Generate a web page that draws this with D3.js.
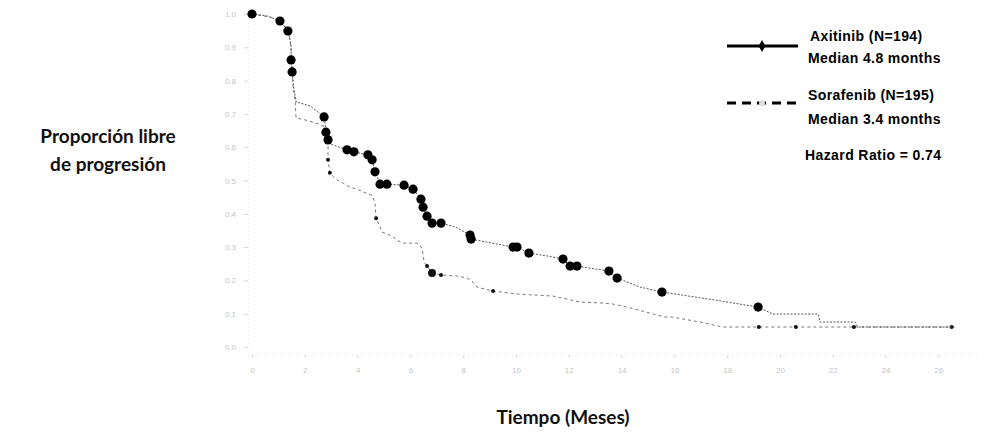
<!DOCTYPE html>
<html>
<head>
<meta charset="utf-8">
<script src="https://cdn.jsdelivr.net/npm/d3@7"></script>
<style>
  html, body { margin: 0; padding: 0; background: #fff; }
  svg { display: block; }
</style>
</head>
<body>
<svg id="chart" width="986" height="432"></svg>
<script>
// ---------- DATA ----------
const xTicks = [0, 2, 4, 6, 8, 10, 12, 14, 16, 18, 20, 22, 24, 26];
const yTicks = [0, 0.1, 0.2, 0.3, 0.4, 0.5, 0.6, 0.7, 0.8, 0.9, 1.0];

// Axitinib curve (months, proportion)
const axitinibTime = [0, 0.57, 1.06, 1.36, 1.48, 1.48, 1.52, 1.59, 1.67, 2.20, 2.73, 2.77, 2.84, 2.95, 3.60, 3.86, 4.39, 4.55, 4.66, 4.85, 5.11, 5.76, 6.10, 6.40, 6.48, 6.63, 6.82, 7.16, 7.73, 8.26, 8.30, 9.89, 10.04, 10.49, 11.21, 11.78, 12.05, 12.31, 13.52, 13.83, 14.70, 15.53, 17.54, 19.17, 19.73, 21.44, 21.52, 22.84, 22.95, 26.6];
const axitinibSurv = [1.0, 0.994, 0.979, 0.949, 0.907, 0.862, 0.826, 0.772, 0.736, 0.724, 0.691, 0.667, 0.631, 0.610, 0.592, 0.586, 0.577, 0.562, 0.526, 0.489, 0.489, 0.486, 0.474, 0.444, 0.420, 0.393, 0.372, 0.372, 0.360, 0.336, 0.324, 0.300, 0.300, 0.282, 0.273, 0.264, 0.243, 0.243, 0.228, 0.207, 0.180, 0.165, 0.141, 0.120, 0.099, 0.099, 0.075, 0.075, 0.060, 0.060];

// Axitinib markers
const axitinibMarkTime = [0, 1.06, 1.36, 1.48, 1.52, 2.73, 2.80, 2.88, 3.60, 3.86, 4.39, 4.55, 4.66, 4.85, 5.11, 5.76, 6.10, 6.40, 6.48, 6.63, 6.82, 7.16, 8.26, 8.30, 9.89, 10.04, 10.49, 11.78, 12.05, 12.31, 13.52, 13.83, 15.53, 19.17];
const axitinibMarkSurv = [1.0, 0.979, 0.949, 0.862, 0.826, 0.691, 0.645, 0.622, 0.592, 0.586, 0.577, 0.562, 0.526, 0.489, 0.489, 0.486, 0.474, 0.444, 0.420, 0.393, 0.372, 0.372, 0.336, 0.324, 0.300, 0.300, 0.282, 0.264, 0.243, 0.243, 0.228, 0.207, 0.165, 0.120];

// Sorafenib curve
const sorafenibTime = [0, 0.68, 1.14, 1.40, 1.48, 1.52, 1.55, 1.63, 1.67, 2.01, 2.50, 2.77, 2.88, 2.88, 2.95, 3.22, 3.45, 3.71, 3.98, 4.32, 4.55, 4.66, 4.70, 4.81, 4.92, 5.23, 5.57, 5.68, 6.25, 6.44, 6.52, 6.63, 6.82, 7.16, 7.80, 8.14, 8.37, 8.52, 9.13, 10.08, 11.40, 11.93, 12.42, 13.30, 13.67, 14.20, 15.64, 15.91, 16.97, 17.84, 26.6];
const sorafenibSurv = [1.0, 0.991, 0.976, 0.946, 0.892, 0.832, 0.787, 0.742, 0.688, 0.682, 0.670, 0.661, 0.622, 0.562, 0.523, 0.502, 0.492, 0.480, 0.474, 0.462, 0.456, 0.432, 0.387, 0.369, 0.345, 0.336, 0.318, 0.312, 0.312, 0.297, 0.255, 0.243, 0.222, 0.216, 0.213, 0.207, 0.195, 0.180, 0.168, 0.159, 0.153, 0.144, 0.135, 0.132, 0.129, 0.120, 0.090, 0.090, 0.075, 0.060, 0.060];

// Sorafenib markers
const sorafenibMarkTime = [2.88, 2.95, 4.70, 6.63, 6.82, 7.16, 9.13, 19.2, 20.6, 22.8, 26.5];
const sorafenibMarkSurv = [0.562, 0.523, 0.387, 0.243, 0.222, 0.216, 0.168, 0.060, 0.060, 0.060, 0.060];

const legendSeries = ["Axitinib (N=194)", "Sorafenib (N=195)"];
const legendMedians = ["Median 4.8 months", "Median 3.4 months"];
const hazardText = "Hazard Ratio = 0.74";
const yTitleLines = ["Proporción libre", "de progresión"];
const xTitle = "Tiempo (Meses)";

// ---------- DRAW ----------
const svg = d3.select("#chart");
svg.append("rect").attr("width", 986).attr("height", 432).attr("fill", "#fff");

const x = d3.scaleLinear().domain([0, 28]).range([252, 252 + 28 * 26.4]);
const y = d3.scaleLinear().domain([0, 1]).range([347, 14]);

// faint axes
const yAxis = svg.append("g").attr("transform", "translate(248,0)")
  .call(d3.axisLeft(y).tickValues(yTicks).tickFormat(d3.format(".1f")).tickSize(4).tickPadding(8));
const xAxis = svg.append("g").attr("transform", "translate(0,355)")
  .call(d3.axisBottom(x).tickValues(xTicks).tickSize(3).tickPadding(9));
[yAxis, xAxis].forEach(g => {
  g.select(".domain").attr("stroke", "#e2e2e2").attr("stroke-dasharray", "1,3");
  g.selectAll(".tick line").attr("stroke", "#d8d8d8");
  g.selectAll(".tick text").attr("fill", "#c4c4c4")
    .style("font-family", "'Liberation Sans', Arial, sans-serif").style("font-size", "8px");
});
xAxis.select(".domain").attr("d", `M${x(0) - 4},0H${x(27.5)}`);

const zip = (ts, ss) => ts.map((t, i) => ({ t, s: ss[i] }));
const line = d3.line().x(d => x(d.t)).y(d => y(d.s));

// Sorafenib
svg.append("path").datum(zip(sorafenibTime, sorafenibSurv))
  .attr("d", line).attr("fill", "none").attr("stroke", "#777")
  .attr("stroke-width", 1).attr("stroke-dasharray", "3,3");
svg.append("g").selectAll("circle").data(zip(sorafenibMarkTime, sorafenibMarkSurv)).join("circle")
  .attr("cx", d => x(d.t)).attr("cy", d => y(d.s))
  .attr("r", (d, i) => i === 4 ? 4 : 2).attr("fill", "#111");

// Axitinib
svg.append("path").datum(zip(axitinibTime, axitinibSurv))
  .attr("d", line).attr("fill", "none").attr("stroke", "#555")
  .attr("stroke-width", 1).attr("stroke-dasharray", "2,1.5");
svg.append("g").selectAll("circle").data(zip(axitinibMarkTime, axitinibMarkSurv)).join("circle")
  .attr("cx", d => x(d.t)).attr("cy", d => y(d.s))
  .attr("r", 4.6).attr("fill", "#000");

// Legend
const lg = svg.append("g");
lg.append("line").attr("x1", 727).attr("x2", 798).attr("y1", 46).attr("y2", 46)
  .attr("stroke", "#000").attr("stroke-width", 3);
lg.append("path").attr("d", d3.symbol(d3.symbolDiamond, 40)()).attr("transform", "translate(762,46)").attr("fill", "#000");
lg.append("line").attr("x1", 727).attr("x2", 800).attr("y1", 103).attr("y2", 103)
  .attr("stroke", "#000").attr("stroke-width", 3).attr("stroke-dasharray", "9,6");
lg.append("circle").attr("cx", 762).attr("cy", 103).attr("r", 3).attr("fill", "#ddd");

const legText = (txt, xx, yy) => lg.append("text").attr("x", xx).attr("y", yy).text(txt)
  .style("font-family", "'Liberation Sans', Arial, sans-serif").style("font-size", "14px")
  .style("font-weight", "bold").style("letter-spacing", "0.4px").attr("fill", "#000");
legText(legendSeries[0], 810, 41);
legText(legendMedians[0], 808, 63);
legText(legendSeries[1], 808, 100);
legText(legendMedians[1], 808, 124);
legText(hazardText, 805, 160);

// Titles
const titleFont = "Lato, 'Open Sans', sans-serif";
yTitleLines.forEach((t, i) => {
  svg.append("text").attr("x", 108).attr("y", 143 + i * 28).attr("text-anchor", "middle")
    .text(t).style("font-family", titleFont).style("font-size", "19px").style("font-weight", "bold").attr("fill", "#111");
});
svg.append("text").attr("x", 563).attr("y", 424).attr("text-anchor", "middle")
  .text(xTitle).style("font-family", titleFont).style("font-size", "19px").style("font-weight", "bold").attr("fill", "#111");
</script>
</body>
</html>
